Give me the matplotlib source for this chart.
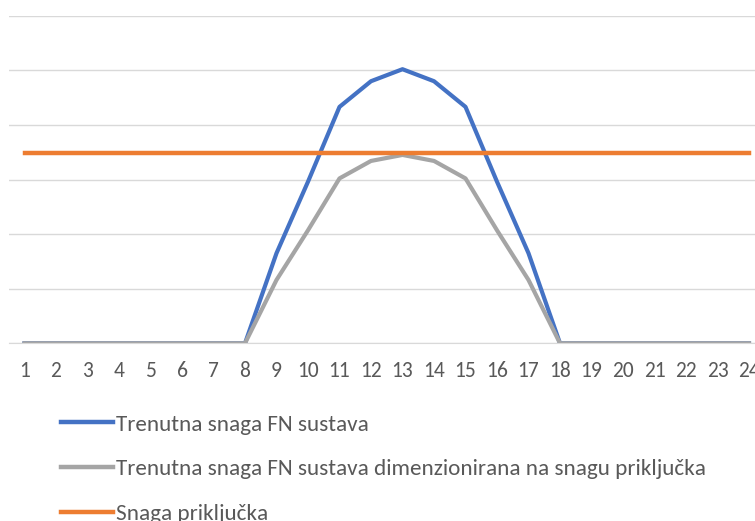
import numpy as np
import matplotlib
matplotlib.use('Agg')
import matplotlib.pyplot as plt

plt.rcParams['font.family'] = ['Carlito', 'DejaVu Sans']

# hours of the day
hours = list(range(1, 25))

# instantaneous PV power (blue)
pvPower = [0, 0, 0, 0, 0, 0, 0, 0, 1.65, 2.96, 4.33, 4.80, 5.02, 4.80, 4.33, 2.96, 1.65, 0,
           0, 0, 0, 0, 0, 0]
# PV power sized to the connection power (gray)
pvSized = [0, 0, 0, 0, 0, 0, 0, 0, 1.16, 2.07, 3.02, 3.34, 3.45, 3.34, 3.02, 2.07, 1.16, 0,
           0, 0, 0, 0, 0, 0]
# connection power (orange)
connPower = [3.48] * 24

labels = ['Trenutna snaga FN sustava',
          'Trenutna snaga FN sustava dimenzionirana na snagu priključka',
          'Snaga priključka']

W, H = 755, 521
fig = plt.figure(figsize=(W / 100, H / 100), dpi=100)
# axis runs past the right edge like the cropped original
ax = fig.add_axes([8.75 / W, (H - 343.3) / H, 756 / W, (343.3 - 15.7) / H])

l1, = ax.plot(hours, pvPower, color='#4472C4', lw=3.0, solid_joinstyle='round')
l2, = ax.plot(hours, pvSized, color='#A5A5A5', lw=3.0, solid_joinstyle='round')
l3, = ax.plot(hours, connPower, color='#ED7D31', lw=3.2)

ax.set_xlim(0.5, 24.5)
ax.set_ylim(0, 6)
ax.set_yticks(np.arange(0, 7, 1))
ax.set_xticks(hours)
ax.grid(axis='y', color='#D9D9D9', lw=1)
ax.set_axisbelow(True)
for s in ['top', 'right', 'left']:
    ax.spines[s].set_visible(False)
ax.spines['bottom'].set_color('#D9D9D9')
ax.tick_params(axis='y', left=False, labelleft=False)
ax.tick_params(axis='x', length=0, pad=13, labelsize=15.5, labelcolor='#595959')

leg = fig.legend([l1, l2, l3], labels, loc='upper left',
                 bbox_to_anchor=(52 / W, 1 - 405 / H), frameon=False,
                 fontsize=16.7, handlelength=2.25, handletextpad=0.1,
                 labelspacing=1.05, borderaxespad=0)
for t in leg.get_texts():
    t.set_color('#595959')
for h in leg.get_lines():
    h.set_linewidth(3.2)

fig.savefig('out.png', dpi=100)
